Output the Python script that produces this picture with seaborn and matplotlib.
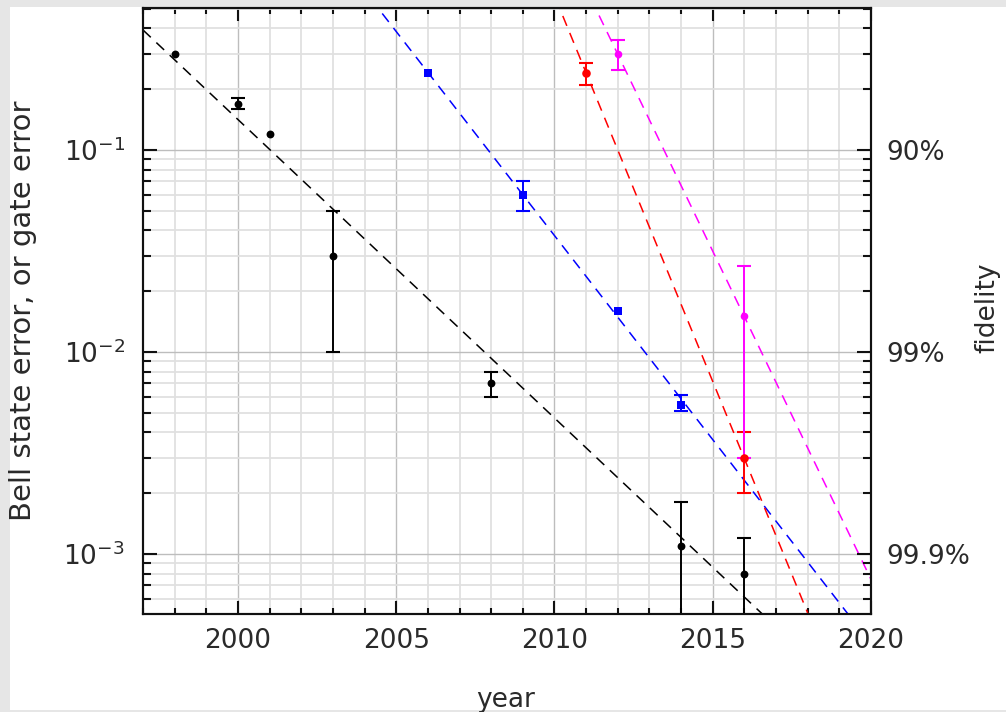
"""Two-qubit gate error vs year, log scale with fidelity axis"""
import matplotlib

matplotlib.use("Agg")
import matplotlib.pyplot as plt
import numpy as np
import pandas as pd
import seaborn as sns
from matplotlib.patches import Rectangle
from matplotlib.ticker import FixedLocator, FixedFormatter, MultipleLocator

# data
black_years = [1998, 2000, 2001, 2003, 2008, 2014, 2016]
black_vals = [0.30, 0.17, 0.12, 0.03, 0.007, 0.0011, 0.0008]
black_eb_years = [2000, 2003, 2008, 2014, 2016]
black_eb_lo = [0.16, 0.01, 0.006, 1e-4, 1e-4]
black_eb_hi = [0.18, 0.05, 0.008, 0.0018, 0.0012]

blue_years = [2006, 2009, 2012, 2014]
blue_vals = [0.24, 0.06, 0.016, 0.0055]
blue_eb_years = [2009, 2014]
blue_eb_lo = [0.05, 0.0051]
blue_eb_hi = [0.07, 0.0061]

red_years = [2011, 2016]
red_vals = [0.24, 0.003]
red_eb_lo = [0.21, 0.002]
red_eb_hi = [0.27, 0.004]

magenta_years = [2012, 2016]
magenta_vals = [0.30, 0.015]
magenta_eb_lo = [0.25, 0.003]
magenta_eb_hi = [0.35, 0.0267]

# trend lines (end points)
black_fit_years = [1997, 2020]
black_fit_vals = [0.393, 1.57e-4]
blue_fit_years = [2004, 2020]
blue_fit_vals = [0.615, 3.6e-4]
red_fit_years = [2009, 2020]
red_fit_vals = [1.40, 8.8e-5]
magenta_fit_years = [2010, 2020]
magenta_fit_vals = [1.33, 7.5e-4]

fidelity_ticks = [0.1, 0.01, 0.001]
fidelity_labels = ["90%", "99%", "99.9%"]

sns.set_style("ticks")
plt.rcParams.update(
    {
        "font.family": ["DejaVu Sans"],
        "font.size": 19,
        "text.color": "#2a2a2a",
        "axes.labelcolor": "#2a2a2a",
        "xtick.color": "#111111",
        "ytick.color": "#111111",
        "xtick.labelcolor": "#2a2a2a",
        "ytick.labelcolor": "#2a2a2a",
        "axes.linewidth": 1.5,
    }
)

fig = plt.figure(figsize=(10.06, 7.12), dpi=100, facecolor="#e6e6e6")
fig.add_artist(
    Rectangle((10 / 1006, 2 / 712), 1, 703 / 712, transform=fig.transFigure,
              facecolor="white", edgecolor="none", zorder=0)
)
ax = fig.add_axes([143 / 1006, 98 / 712, 728 / 1006, 606 / 712])
ax.set_yscale("log")
ax.set_xlim(1997, 2020)
ax.set_ylim(5.05e-4, 0.505)
ax.set_axisbelow(True)

dash = (0, (7, 5))
for yrs, vals, col in [
    (black_fit_years, black_fit_vals, "black"),
    (blue_fit_years, blue_fit_vals, "blue"),
    (red_fit_years, red_fit_vals, "red"),
    (magenta_fit_years, magenta_fit_vals, "magenta"),
]:
    sns.lineplot(x=yrs, y=vals, ax=ax, color=col, linestyle=dash, lw=1.1)


def err_bars(yrs, vals, lo, hi, col):
    vals = np.array(vals)
    yerr = [vals - np.array(lo), np.array(hi) - vals]
    ax.errorbar(yrs, vals, yerr=yerr, fmt="none", ecolor=col, elinewidth=1.4,
                capsize=4.7, capthick=1.5, zorder=3)


black_df = pd.DataFrame({"year": black_years, "err": black_vals})
eb_black = black_df[black_df.year.isin(black_eb_years)]
err_bars(eb_black.year, eb_black.err, black_eb_lo, black_eb_hi, "black")
sns.scatterplot(data=black_df, x="year", y="err", ax=ax, color="black",
                marker="o", s=32, linewidth=0, zorder=4)

blue_df = pd.DataFrame({"year": blue_years, "err": blue_vals})
eb_blue = blue_df[blue_df.year.isin(blue_eb_years)]
err_bars(eb_blue.year, eb_blue.err, blue_eb_lo, blue_eb_hi, "blue")
sns.scatterplot(data=blue_df, x="year", y="err", ax=ax, color="blue",
                marker="s", s=32, linewidth=0, zorder=4)

err_bars(red_years, red_vals, red_eb_lo, red_eb_hi, "red")
sns.scatterplot(x=red_years, y=red_vals, ax=ax, color="red",
                marker="o", s=38, linewidth=0, zorder=4)

err_bars(magenta_years, magenta_vals, magenta_eb_lo, magenta_eb_hi, "magenta")
sns.scatterplot(x=magenta_years, y=magenta_vals, ax=ax, color="magenta",
                marker="o", s=30, linewidth=0, zorder=4)

ax.set_xlabel("")
ax.set_ylabel("")

# ticks and grid
ax.xaxis.set_major_locator(MultipleLocator(5))
ax.xaxis.set_minor_locator(MultipleLocator(1))
ax.tick_params(axis="x", which="major", direction="in", length=9.5, width=1.5,
               top=True, pad=10)
ax.tick_params(axis="x", which="minor", direction="in", length=4.5, width=1.5,
               top=True)
ax.tick_params(axis="y", which="major", direction="in", length=10, width=1.5,
               right=False, pad=13)
ax.tick_params(axis="y", which="minor", direction="in", length=6, width=1.5,
               right=False)
ax.grid(which="major", color="#bdbdbd", lw=1.0)
ax.grid(which="minor", color="#e0e0e0", lw=1.3)

# right-hand fidelity axis
ax2 = ax.twinx()
ax2.set_yscale("log")
ax2.set_ylim(ax.get_ylim())
ax2.yaxis.set_major_locator(FixedLocator(fidelity_ticks))
ax2.yaxis.set_major_formatter(FixedFormatter(fidelity_labels))
ax2.tick_params(axis="y", which="major", direction="in", length=10, width=1.5,
                pad=11)
ax2.tick_params(axis="y", which="minor", direction="in", length=6, width=1.5)
for a in (ax, ax2):
    for s in a.spines.values():
        s.set_linewidth(1.5)
        s.set_color("#111111")

# axis titles
fig.text(506 / 1006, 5 / 712, "year", ha="center", va="baseline")
fig.text(23 / 1006, 1 - 311 / 712, "Bell state error, or gate error",
         rotation=90, ha="center", va="center", fontsize=21)
fig.text(987 / 1006, 1 - 308 / 712, "fidelity", rotation=90,
         ha="center", va="center")

plt.savefig("out.png", dpi=100, facecolor=fig.get_facecolor())
plt.close()
